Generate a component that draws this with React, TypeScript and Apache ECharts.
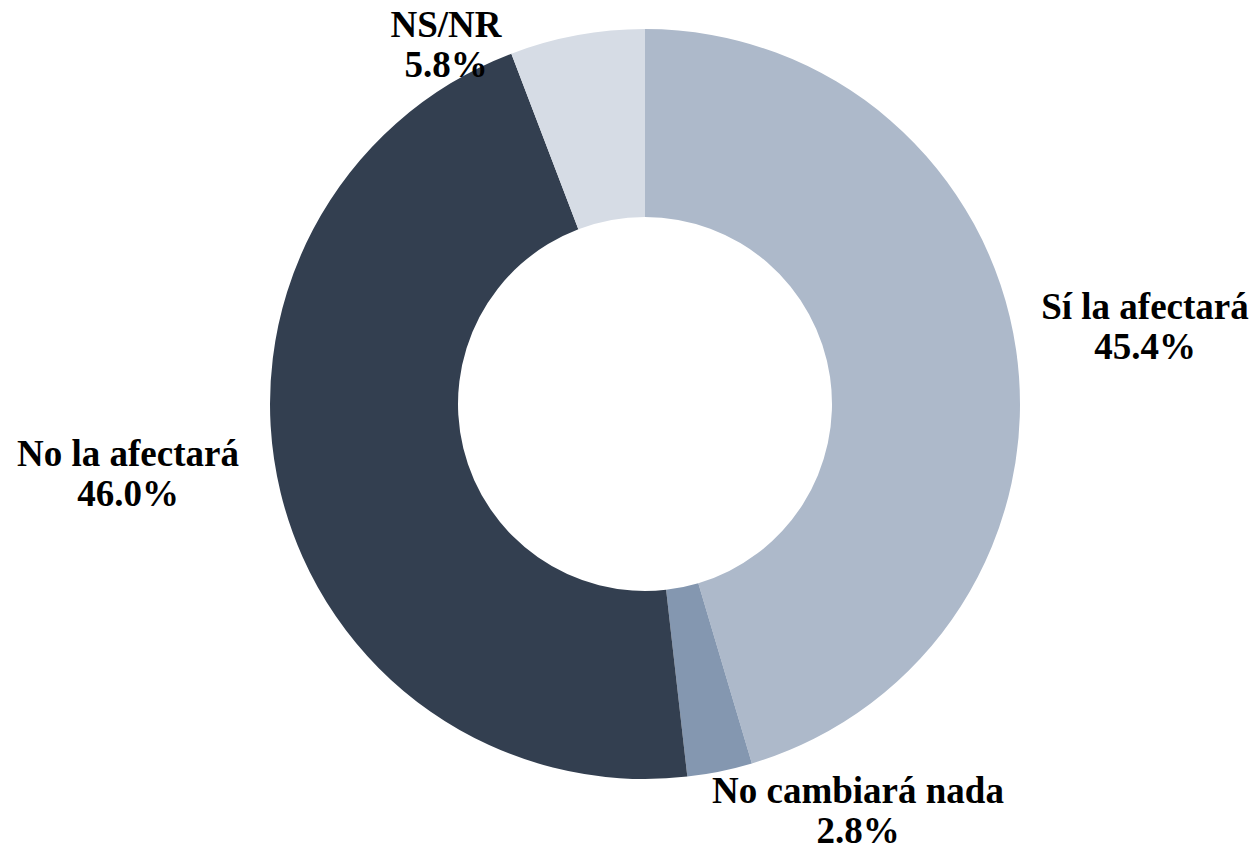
import React, { useEffect, useRef } from "react";
import * as echarts from "echarts";

const categories = ["Sí la afectará", "No cambiará nada", "No la afectará", "NS/NR"];
const values = [45.4, 2.8, 46.0, 5.8];
const colors = ["#ADB9CA", "#8497B0", "#333F50", "#D6DCE5"];

// label anchor positions (layout only, block centres in px)
const labelAnchors: [number, number][] = [
  [1145, 326],
  [858, 810],
  [128, 473],
  [446, 44],
];

export default function App() {
  const ref = useRef<HTMLDivElement>(null);
  useEffect(() => {
    document.body.style.margin = "0";
    if (!ref.current) return;
    const chart = echarts.init(ref.current, null, { renderer: "svg" });
    chart.setOption({
      animation: false,
      backgroundColor: "#ffffff",
      series: [
        {
          type: "pie",
          center: [645, 404],
          radius: [187, 375],
          startAngle: 90,
          clockwise: true,
          avoidLabelOverlap: false,
          data: categories.map((c, i) => ({
            name: c,
            value: values[i],
            itemStyle: { color: colors[i] },
          })),
          label: {
            show: true,
            position: "outside",
            formatter: (p: any) => `${p.name}\n${p.value.toFixed(1)}%`,
            fontFamily: "'Liberation Serif', 'Times New Roman', serif",
            fontWeight: "bold",
            fontSize: 37,
            lineHeight: 40,
            color: "#000000",
            align: "center",
          },
          labelLine: { show: false },
          labelLayout: (p: any) => {
            const a = labelAnchors[p.dataIndex];
            return { x: a[0], y: a[1], align: "center", verticalAlign: "middle" };
          },
          emphasis: { disabled: true },
        },
      ],
    });
    return () => chart.dispose();
  }, []);
  return <div ref={ref} style={{ width: 1255, height: 849 }} />;
}
